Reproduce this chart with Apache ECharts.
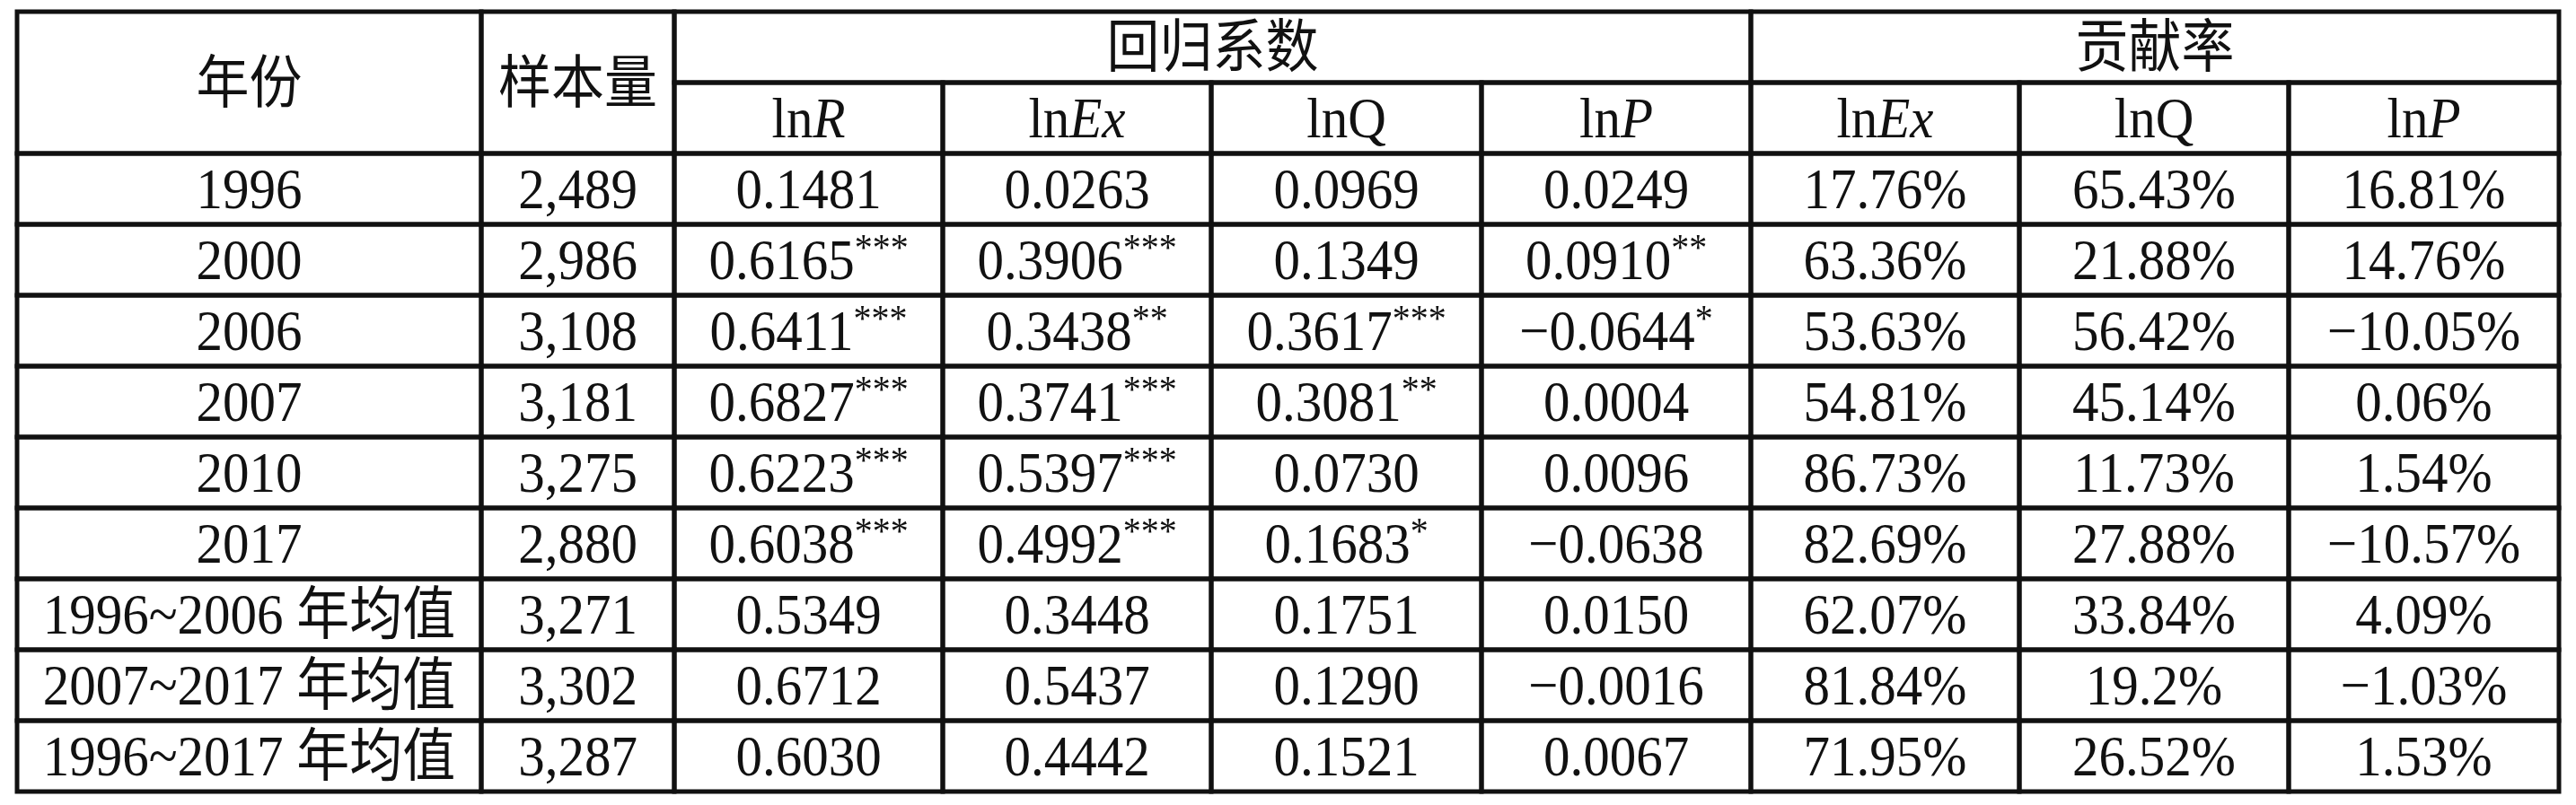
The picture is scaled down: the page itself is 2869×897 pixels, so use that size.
<!DOCTYPE html>
<html>
<head>
<meta charset="utf-8">
<script src="https://cdn.jsdelivr.net/npm/echarts@6/dist/echarts.min.js"></script>
<style>
html,body{margin:0;padding:0;background:#fff;}
#chart{width:2869px;height:897px;}
</style>
</head>
<body>
<div id="chart"></div>
<script>
// ---------- data ----------
const groupHeaders = ['回归系数', '贡献率'];
const rowHeaders = ['年份', '样本量'];
const coefHeaders = [['ln', 'R'], ['ln', 'Ex'], ['lnQ', ''], ['ln', 'P']];
const contribHeaders = [['ln', 'Ex'], ['lnQ', ''], ['ln', 'P']];
const years = ['1996', '2000', '2006', '2007', '2010', '2017', '1996~2006 年均值', '2007~2017 年均值', '1996~2017 年均值'];
const sampleSize = [2489, 2986, 3108, 3181, 3275, 2880, 3271, 3302, 3287];
const coefLnR = [0.1481, 0.6165, 0.6411, 0.6827, 0.6223, 0.6038, 0.5349, 0.6712, 0.6030];
const sigLnR = ['', '***', '***', '***', '***', '***', '', '', ''];
const coefLnEx = [0.0263, 0.3906, 0.3438, 0.3741, 0.5397, 0.4992, 0.3448, 0.5437, 0.4442];
const sigLnEx = ['', '***', '**', '***', '***', '***', '', '', ''];
const coefLnQ = [0.0969, 0.1349, 0.3617, 0.3081, 0.0730, 0.1683, 0.1751, 0.1290, 0.1521];
const sigLnQ = ['', '', '***', '**', '', '*', '', '', ''];
const coefLnP = [0.0249, 0.0910, -0.0644, 0.0004, 0.0096, -0.0638, 0.0150, -0.0016, 0.0067];
const sigLnP = ['', '**', '*', '', '', '', '', '', ''];
const contribLnEx = [17.76, 63.36, 53.63, 54.81, 86.73, 82.69, 62.07, 81.84, 71.95];
const contribLnQ = [65.43, 21.88, 56.42, 45.14, 11.73, 27.88, 33.84, 19.2, 26.52];
const contribLnP = [16.81, 14.76, -10.05, 0.06, 1.54, -10.57, 4.09, -1.03, 1.53];

// ---------- layout ----------
const colWidths = [517, 215, 299, 299, 301, 300, 299, 300, 301];
const colEdges = [0];
colWidths.forEach(w => colEdges.push(colEdges[colEdges.length - 1] + w));
const headerRows = 2;
const totalRows = headerRows + years.length;

function esc(s) { return String(s).replace(/[{}|]/g, ''); }
function minus(s) { return s.replace('-', '\u2212'); }
function fmtCoef(v, sig) {
  const t = minus(v.toFixed(4));
  return sig ? '{n|' + t + '}{s|' + sig + '}' : '{n|' + t + '}';
}
function fmtPct(v) { return '{n|' + minus(String(v)) + '%}'; }
function fmtHead(h) { return h[1] ? '{n|' + h[0] + '}{i|' + h[1] + '}' : '{n|' + h[0] + '}'; }

const cells = [];
function addCell(c0, c1, r0, r1, text) {
  cells.push({ c0, c1, r0, r1, text });
}
addCell(0, 1, 0, 2, '{n|' + rowHeaders[0] + '}');
addCell(1, 2, 0, 2, '{n|' + rowHeaders[1] + '}');
addCell(2, 6, 0, 1, '{n|' + groupHeaders[0] + '}');
addCell(6, 9, 0, 1, '{n|' + groupHeaders[1] + '}');
coefHeaders.forEach((h, i) => addCell(2 + i, 3 + i, 1, 2, fmtHead(h)));
contribHeaders.forEach((h, i) => addCell(6 + i, 7 + i, 1, 2, fmtHead(h)));
years.forEach((y, i) => {
  const r = headerRows + i;
  addCell(0, 1, r, r + 1, '{n|' + esc(y) + '}');
  addCell(1, 2, r, r + 1, '{n|' + sampleSize[i].toLocaleString('en-US') + '}');
  addCell(2, 3, r, r + 1, fmtCoef(coefLnR[i], sigLnR[i]));
  addCell(3, 4, r, r + 1, fmtCoef(coefLnEx[i], sigLnEx[i]));
  addCell(4, 5, r, r + 1, fmtCoef(coefLnQ[i], sigLnQ[i]));
  addCell(5, 6, r, r + 1, fmtCoef(coefLnP[i], sigLnP[i]));
  addCell(6, 7, r, r + 1, fmtPct(contribLnEx[i]));
  addCell(7, 8, r, r + 1, fmtPct(contribLnQ[i]));
  addCell(8, 9, r, r + 1, fmtPct(contribLnP[i]));
});

const seriesData = cells.map((c, idx) => [colEdges[c.c0], colEdges[c.c1], c.r0, c.r1, idx]);

const FONT = "'Liberation Serif', 'Noto Sans CJK SC', serif";
const rich = {
  n: { fontFamily: FONT, fontSize: 59, lineHeight: 70, fill: '#111' },
  i: { fontFamily: FONT, fontSize: 59, lineHeight: 70, fontStyle: 'italic', fill: '#111' },
  s: { fontFamily: FONT, fontSize: 40, lineHeight: 40, verticalAlign: 'top', fill: '#111' }
};

const chart = echarts.init(document.getElementById('chart'), null, { renderer: 'canvas' });
chart.setOption({
  backgroundColor: '#ffffff',
  animation: false,
  grid: { left: 19, right: 19, top: 13, bottom: 15 },
  xAxis: { type: 'value', min: 0, max: colEdges[colEdges.length - 1], show: false },
  yAxis: { type: 'value', min: 0, max: totalRows, inverse: true, show: false },
  series: [{
    type: 'custom',
    coordinateSystem: 'cartesian2d',
    clip: false,
    encode: { x: [0, 1], y: [2, 3] },
    data: seriesData,
    renderItem: function (params, api) {
      const a = api.coord([api.value(0), api.value(2)]);
      const b = api.coord([api.value(1), api.value(3)]);
      const cell = cells[api.value(4)];
      const cx = (a[0] + b[0]) / 2;
      const cy = (a[1] + b[1]) / 2 + 5;
      return {
        type: 'group',
        children: [
          {
            type: 'rect',
            shape: { x: a[0], y: a[1], width: b[0] - a[0], height: b[1] - a[1] },
            style: { fill: 'none', stroke: '#111', lineWidth: 5 }
          },
          {
            type: 'text',
            x: cx,
            y: cy,
            scaleY: 1.08,
            style: {
              x: 0,
              y: 0,
              text: cell.text,
              rich: rich,
              align: 'center',
              verticalAlign: 'middle',
              fill: '#111',
              fontFamily: FONT,
              fontSize: 59
            }
          }
        ]
      };
    }
  }]
});
</script>
</body>
</html>
